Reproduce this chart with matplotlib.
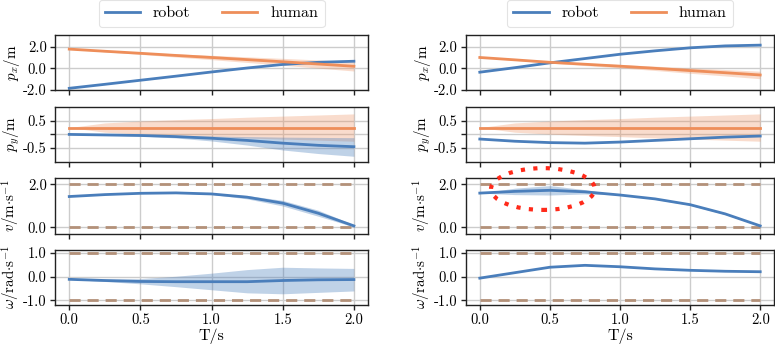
import matplotlib
matplotlib.use('Agg')
import matplotlib.pyplot as plt
from matplotlib.patches import Ellipse
import numpy as np

plt.rcParams['font.family'] = 'serif'
plt.rcParams['font.serif'] = ['cmr10', 'DejaVu Serif']
plt.rcParams['mathtext.fontset'] = 'cm'
plt.rcParams['axes.unicode_minus'] = False
plt.rcParams['font.size'] = 10.5

t = [0.0, 0.25, 0.5, 0.75, 1.0, 1.25, 1.5, 1.75, 2.0]

# left scenario
l_px_robot = [-1.87, -1.5, -1.12, -0.74, -0.35, 0.02, 0.35, 0.55, 0.65]
l_px_human = [1.78, 1.58, 1.39, 1.19, 1.0, 0.8, 0.6, 0.39, 0.18]
l_px_human_sd = [0.0, 0.05, 0.1, 0.15, 0.2, 0.26, 0.32, 0.38, 0.44]
l_py_robot = [0.0, -0.02, -0.04, -0.08, -0.14, -0.22, -0.32, -0.4, -0.45]
l_py_robot_lo = [0.0, -0.03, -0.06, -0.13, -0.24, -0.39, -0.57, -0.7, -0.8]
l_py_robot_hi = [0.0, -0.01, -0.02, -0.04, -0.06, -0.08, -0.1, -0.11, -0.12]
l_py_human = [0.25] * 9
l_py_human_sd = [0.0, 0.17, 0.24, 0.29, 0.33, 0.38, 0.42, 0.46, 0.5]
l_v_robot = [1.43, 1.52, 1.58, 1.6, 1.55, 1.4, 1.12, 0.65, 0.06]
l_v_robot_sd = [0.0, 0.0, 0.0, 0.0, 0.02, 0.08, 0.13, 0.14, 0.05]
l_w_robot = [-0.11, -0.16, -0.2, -0.21, -0.21, -0.21, -0.16, -0.13, -0.12]
l_w_robot_lo = [-0.11, -0.2, -0.3, -0.42, -0.55, -0.68, -0.72, -0.66, -0.6]
l_w_robot_hi = [-0.11, -0.1, -0.08, 0.02, 0.15, 0.3, 0.4, 0.37, 0.35]

# right scenario
r_px_robot = [-0.37, 0.05, 0.5, 0.9, 1.3, 1.62, 1.9, 2.08, 2.15]
r_px_human = [1.0, 0.78, 0.55, 0.37, 0.19, -0.01, -0.22, -0.42, -0.63]
r_px_human_sd = [0.0, 0.04, 0.08, 0.12, 0.16, 0.2, 0.25, 0.3, 0.35]
r_py_robot = [-0.17, -0.25, -0.3, -0.32, -0.28, -0.22, -0.16, -0.1, -0.06]
r_py_human = [0.25] * 9
r_py_human_sd = [0.0, 0.17, 0.24, 0.29, 0.33, 0.38, 0.42, 0.46, 0.5]
r_v_robot = [1.59, 1.67, 1.72, 1.65, 1.5, 1.32, 1.05, 0.62, 0.06]
r_v_robot_sd = [0.0, 0.15, 0.22, 0.1, 0.0, 0.02, 0.03, 0.03, 0.02]
r_w_robot = [-0.06, 0.17, 0.4, 0.48, 0.42, 0.33, 0.27, 0.23, 0.21]

v_limits = [0.0, 2.0]
w_limits = [-1.0, 1.0]

BLUE = '#4a7ebb'
ORANGE = '#ee8e5a'
BROWN = '#b39179'

ylabels = [r'$p_x/\mathrm{m}$', r'$p_y/\mathrm{m}$',
           r'$v/\mathrm{m{\cdot}s^{-1}}$', r'$\omega/\mathrm{rad{\cdot}s^{-1}}$']


def style(ax):
    ax.grid(True, color='#cccccc', linewidth=1)
    ax.set_axisbelow(True)
    for s in ax.spines.values():
        s.set_color('#222222')
        s.set_linewidth(1)
    ax.set_xlim(-0.1, 2.1)
    ax.set_xticks([0.0, 0.5, 1.0, 1.5, 2.0])
    ax.tick_params(length=3.5, width=1, color='#222222', pad=2.5)


def draw_column(axes, d):
    ax = axes[0]
    ax.fill_between(t, np.array(d['px_h']) - d['px_h_sd'], np.array(d['px_h']) + d['px_h_sd'],
                    color=ORANGE, alpha=0.3, lw=0)
    ax.plot(t, d['px_r'], color=BLUE, lw=2, label='robot')
    ax.plot(t, d['px_h'], color=ORANGE, lw=2, label='human')
    ax.set_ylim(-2.07, 3.1)
    ax.set_yticks([-2, 0, 2])
    ax.set_yticklabels(['-2.0', '0.0', '2.0'])

    ax = axes[1]
    ax.fill_between(t, np.array(d['py_h']) - d['py_h_sd'], np.array(d['py_h']) + d['py_h_sd'],
                    color=ORANGE, alpha=0.3, lw=0)
    if 'py_r_lo' in d:
        ax.fill_between(t, d['py_r_lo'], d['py_r_hi'], color=BLUE, alpha=0.35, lw=0)
    ax.plot(t, d['py_h'], color=ORANGE, lw=2)
    ax.plot(t, d['py_r'], color=BLUE, lw=2)
    ax.set_ylim(-1.01, 1.02)
    ax.set_yticks([-0.5, 0, 0.5])
    ax.set_yticklabels(['-0.5', '', '0.5'])

    ax = axes[2]
    for lim in v_limits:
        ax.plot([t[0], t[-1]], [lim, lim], color=BROWN, lw=2, ls=(0, (4, 2.5)))
    ax.fill_between(t, np.array(d['v_r']) - d['v_r_sd'], np.array(d['v_r']) + d['v_r_sd'],
                    color=BLUE, alpha=0.35, lw=0)
    ax.plot(t, d['v_r'], color=BLUE, lw=2)
    ax.set_ylim(-0.3, 2.29)
    ax.set_yticks([0, 2])
    ax.set_yticklabels(['0.0', '2.0'])

    ax = axes[3]
    for lim in w_limits:
        ax.plot([t[0], t[-1]], [lim, lim], color=BROWN, lw=2, ls=(0, (4, 2.5)))
    if 'w_r_lo' in d:
        ax.fill_between(t, d['w_r_lo'], d['w_r_hi'], color=BLUE, alpha=0.35, lw=0)
    ax.plot(t, d['w_r'], color=BLUE, lw=2)
    ax.set_ylim(-1.2, 1.14)
    ax.set_yticks([-1, 0, 1])
    ax.set_yticklabels(['-1.0', '0.0', '1.0'])
    ax.set_xticklabels(['0.0', '0.5', '1.0', '1.5', '2.0'])
    ax.set_xlabel('T/s', fontsize=11.5, labelpad=1)

    for i, a in enumerate(axes):
        style(a)
        a.set_ylabel(ylabels[i], fontsize=10.8, labelpad=0.5)
        if i < 3:
            a.tick_params(labelbottom=False)

    leg = axes[0].legend(loc='lower center', bbox_to_anchor=(0.5, 1.06), ncol=2,
                         fontsize=11.5, handlelength=2.2, columnspacing=2.0,
                         borderaxespad=0.3, frameon=True, fancybox=True, edgecolor='#dddddd')
    leg.get_frame().set_linewidth(0.8)


fig = plt.figure(figsize=(7.75, 3.46), dpi=100)
gs_l = fig.add_gridspec(4, 1, left=0.071, right=0.475, top=0.899, bottom=0.118, hspace=0.29)
gs_r = fig.add_gridspec(4, 1, left=0.601, right=0.999, top=0.899, bottom=0.118, hspace=0.29)
ax_l = [fig.add_subplot(gs_l[i]) for i in range(4)]
ax_r = [fig.add_subplot(gs_r[i]) for i in range(4)]

draw_column(ax_l, dict(px_r=l_px_robot, px_h=l_px_human, px_h_sd=l_px_human_sd,
                       py_r=l_py_robot, py_r_lo=l_py_robot_lo, py_r_hi=l_py_robot_hi,
                       py_h=l_py_human, py_h_sd=l_py_human_sd,
                       v_r=l_v_robot, v_r_sd=l_v_robot_sd,
                       w_r=l_w_robot, w_r_lo=l_w_robot_lo, w_r_hi=l_w_robot_hi))
draw_column(ax_r, dict(px_r=r_px_robot, px_h=r_px_human, px_h_sd=r_px_human_sd,
                       py_r=r_py_robot, py_h=r_py_human, py_h_sd=r_py_human_sd,
                       v_r=r_v_robot, v_r_sd=r_v_robot_sd, w_r=r_w_robot))

# highlight the velocity bump on the right
ell = Ellipse((0.45, 1.78), 0.74, 1.95, fill=False, edgecolor='#ff2a1a', lw=3,
              ls=(0, (1, 2)), clip_on=False, zorder=5)
ax_r[2].add_patch(ell)

fig.align_ylabels(ax_l)
fig.align_ylabels(ax_r)

fig.savefig('out.png', dpi=100)
